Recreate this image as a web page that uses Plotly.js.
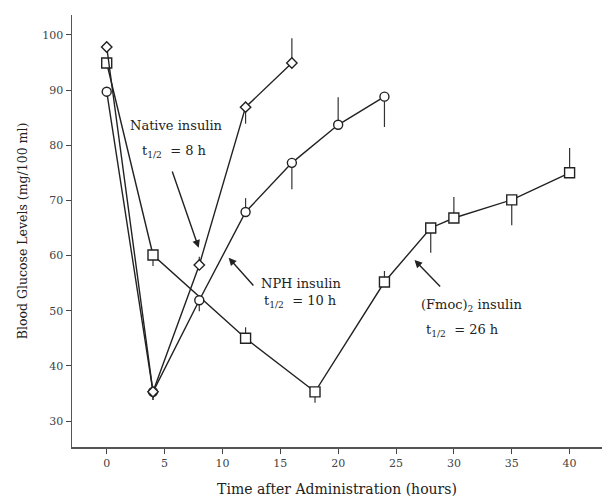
<!DOCTYPE html>
<html>
<head>
<meta charset="utf-8">
<script src="https://cdn.plot.ly/plotly-3.0.1.min.js"></script>
<style>html,body{margin:0;padding:0;background:#fff}#chart{width:602px;height:502px}</style>
</head>
<body>
<div id="chart"></div>
<script>
// Native insulin (diamonds)
var nativeHours = [0, 4, 8, 12, 16];
var nativeGlucose = [97.8, 35.3, 58.3, 86.9, 94.9];
var nativeErrPlus = [0, 0, 1.5, 0, 4.5];
var nativeErrMinus = [0, 1.5, 0, 3, 0];

// NPH insulin (circles)
var nphHours = [0, 4, 8, 12, 16, 20, 24];
var nphGlucose = [89.7, 35.3, 51.9, 67.9, 76.8, 83.7, 88.8];
var nphErrPlus = [0, 0, 0, 2.5, 0, 5, 0];
var nphErrMinus = [0, 1.5, 2, 0, 4.8, 0, 5.5];

// (Fmoc)2 insulin (squares)
var fmocHours = [0, 4, 12, 18, 24, 28, 30, 35, 40];
var fmocGlucose = [94.9, 60.1, 45.0, 35.3, 55.2, 65.0, 66.8, 70.1, 75.0];
var fmocErrPlus = [0, 0, 2, 0, 2, 0, 3.8, 0, 4.5];
var fmocErrMinus = [0, 2, 0, 2, 0, 4.5, 0, 4.6, 0];

var xTicks = [0, 5, 10, 15, 20, 25, 30, 35, 40];
var yTicks = [30, 40, 50, 60, 70, 80, 90, 100];

function series(x, y, plus, minus, symbol, size) {
  return {
    x: x, y: y, type: 'scatter', mode: 'lines+markers',
    line: {color: '#222', width: 1.4},
    marker: {symbol: symbol, size: size, color: '#fff', line: {color: '#222', width: 1.4}},
    error_y: {type: 'data', symmetric: false, array: plus, arrayminus: minus,
              width: 0, thickness: 1.2, color: '#333'},
    showlegend: false, hoverinfo: 'skip'
  };
}

var data = [
  series(fmocHours, fmocGlucose, fmocErrPlus, fmocErrMinus, 'square', 10),
  series(nphHours, nphGlucose, nphErrPlus, nphErrMinus, 'circle', 9),
  series(nativeHours, nativeGlucose, nativeErrPlus, nativeErrMinus, 'diamond', 8)
];

var serif = 'DejaVu Serif, serif';
function label(x, y, text) {
  return {x: x, y: y, xref: 'x', yref: 'y', text: text, showarrow: false,
          xanchor: 'left', yanchor: 'middle', font: {family: serif, size: 13, color: '#222'}};
}
function arrow(x, y, ax, ay) {
  return {x: x, y: y, ax: ax, ay: ay, xref: 'x', yref: 'y', axref: 'x', ayref: 'y',
          text: '', showarrow: true, arrowhead: 2, arrowsize: 1.1, arrowwidth: 1.4, arrowcolor: '#222'};
}

var layout = {
  width: 602, height: 502,
  margin: {l: 72, r: 0, t: 15, b: 55},
  paper_bgcolor: '#fff', plot_bgcolor: '#fff',
  font: {family: serif, color: '#333'},
  xaxis: {
    range: [-3.0, 42.8], tickvals: xTicks, ticks: 'outside', ticklen: 5, tickwidth: 1,
    tickcolor: '#444', showline: true, linecolor: '#555', linewidth: 1.5,
    showgrid: false, zeroline: false, tickfont: {family: serif, size: 11, color: '#444'},
    title: {text: 'Time after Administration (hours)', font: {family: serif, size: 14, color: '#222'}, standoff: 15}
  },
  yaxis: {
    range: [25.3, 103.6], tickvals: yTicks, ticks: 'outside', ticklen: 5, tickwidth: 1,
    tickcolor: '#444', showline: true, linecolor: '#555', linewidth: 1.5,
    showgrid: false, zeroline: false, tickfont: {family: serif, size: 11, color: '#444'},
    title: {text: 'Blood Glucose Levels (mg/100 ml)', font: {family: serif, size: 12.5, color: '#222'}, standoff: 12}
  },
  annotations: [
    label(1.8, 83.5, 'Native insulin'),
    label(2.85, 78.8, 't<sub>1/2</sub>  = 8 h'),
    label(13.2, 55.0, 'NPH insulin'),
    label(13.4, 51.6, 't<sub>1/2</sub>  = 10 h'),
    label(27.0, 51.0, '(Fmoc)<sub>2</sub> insulin'),
    label(27.4, 46.5, 't<sub>1/2</sub>  = 26 h'),
    arrow(7.95, 61.4, 5.62, 75.5),
    arrow(10.54, 59.6, 12.79, 54.3),
    arrow(26.6, 59.2, 28.94, 54.1)
  ]
};

Plotly.newPlot('chart', data, layout, {staticPlot: true, displayModeBar: false});
</script>
</body>
</html>
